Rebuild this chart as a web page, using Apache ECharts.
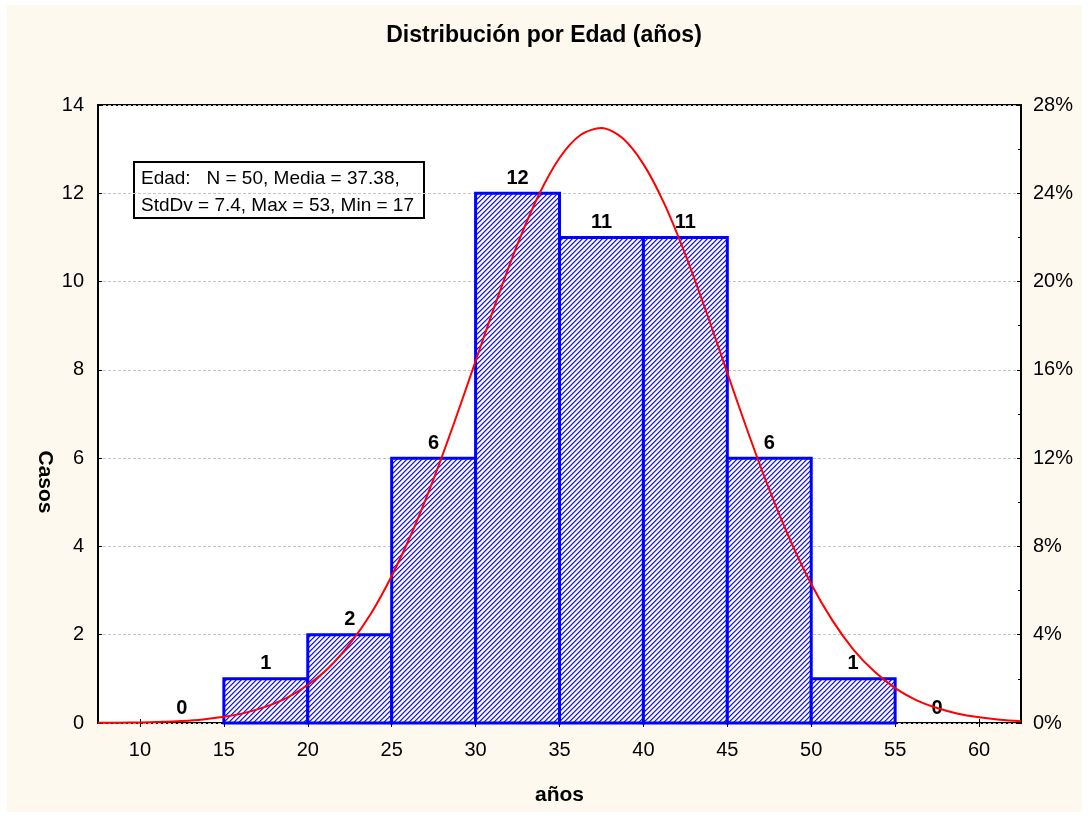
<!DOCTYPE html>
<html>
<head>
    <meta charset="utf-8">
    <script src="https://cdn.jsdelivr.net/npm/echarts@6/dist/echarts.min.js"></script>
    <style>
        html, body { margin: 0; padding: 0; background: #fff; }
    </style>
</head>
<body>
    <div id="main" style="width: 1088px;height:816px"></div>

    <script type="text/javascript">
        // histograma: limites de clase y casos
        var binStart = [10, 15, 20, 25, 30, 35, 40, 45, 50, 55];
        var binEnd   = [15, 20, 25, 30, 35, 40, 45, 50, 55, 60];
        var casos    = [0, 1, 2, 6, 12, 11, 11, 6, 1, 0];

        // curva normal esperada
        var curveX = [7.5, 8.75, 10, 11.25, 12.5, 13.75, 15, 16.25, 17.5, 18.75, 20, 21.25, 22.5, 23.75,
                      25, 26.25, 27.5, 28.75, 30, 31.25, 32.5, 33.75, 35, 36.25, 37.5,
                      38.75, 40, 41.25, 42.5, 43.75, 45, 46.25, 47.5, 48.75, 50, 51.25, 52.5, 53.75,
                      55, 56.25, 57.5, 58.75, 60, 61.25, 62.5];
        var curveY = [0.004, 0.008, 0.014, 0.026, 0.047, 0.082, 0.14, 0.23, 0.37, 0.57, 0.86, 1.25, 1.79, 2.47,
                      3.33, 4.35, 5.53, 6.83, 8.2, 9.57, 10.85, 11.95, 12.8, 13.32, 13.48,
                      13.25, 12.66, 11.76, 10.61, 9.31, 7.93, 6.57, 5.29, 4.14, 3.15, 2.33, 1.67, 1.17,
                      0.79, 0.52, 0.34, 0.21, 0.13, 0.074, 0.04];

        var xTicks = [10, 15, 20, 25, 30, 35, 40, 45, 50, 55, 60];

        var infoLines = ['Edad:   N = 50, Media = 37.38,', 'StdDv = 7.4, Max = 53, Min = 17'];

        // trama diagonal azul
        var hatch = document.createElement('canvas');
        hatch.width = 5; hatch.height = 5;
        var hctx = hatch.getContext('2d');
        var shades = ['#1414ff', '#8080ff', '#ffffff', '#ffffff', '#cfcfff'];
        for (var px = 0; px < 5; px++) {
            for (var py = 0; py < 5; py++) {
                hctx.fillStyle = shades[(px + py) % 5];
                hctx.fillRect(px, py, 1, 1);
            }
        }

        var barData = [];
        for (var i = 0; i < casos.length; i++) {
            barData.push([binStart[i], binEnd[i], casos[i]]);
        }
        var curveData = [];
        for (var j = 0; j < curveX.length; j++) {
            curveData.push([curveX[j], curveY[j]]);
        }

        var myChart = echarts.init(document.getElementById('main'));
        var font = 'Liberation Sans, Arial, sans-serif';

        var option = {
            backgroundColor: '#ffffff',
            animation: false,
            title: {
                text: 'Distribución por Edad (años)',
                left: 'center',
                top: 24,
                padding: 0,
                textStyle: { fontFamily: font, fontSize: 23, fontWeight: 'bold', color: '#000' }
            },
            graphic: [{
                type: 'rect',
                z: -10,
                silent: true,
                shape: { x: 7, y: 5, width: 1075, height: 807 },
                style: { fill: '#fef9ef' }
            }, {
                type: 'text',
                x: 45,
                y: 482,
                rotation: -Math.PI / 2,
                style: {
                    text: 'Casos',
                    font: 'bold 21px ' + font,
                    align: 'center',
                    verticalAlign: 'middle',
                    fill: '#000'
                }
            }, {
                type: 'group',
                left: 133,
                top: 161,
                z: 100,
                children: [{
                    type: 'rect',
                    shape: { x: 0, y: 0, width: 290, height: 56 },
                    style: { fill: '#fff', stroke: '#000', lineWidth: 2 }
                }, {
                    type: 'text',
                    x: 7, y: 3,
                    style: {
                        text: infoLines.join('\n'),
                        font: '19px ' + font,
                        lineHeight: 27,
                        fill: '#000'
                    }
                }]
            }],
            grid: {
                left: 98,
                right: 67,
                top: 105,
                bottom: 93,
                show: true,
                backgroundColor: '#fff',
                borderColor: '#000',
                borderWidth: 2,
                z: 0
            },
            xAxis: [{
                type: 'value',
                min: 7.5,
                max: 62.5,
                position: 'bottom',
                name: 'años',
                nameLocation: 'middle',
                nameGap: 62,
                nameTextStyle: { fontFamily: font, fontSize: 21, fontWeight: 'bold', color: '#000' },
                axisLine: { show: false },
                axisTick: { show: true, inside: true, length: 4, customValues: xTicks, lineStyle: { color: '#000' } },
                axisLabel: { customValues: xTicks, margin: 17, fontFamily: font, fontSize: 20, color: '#000' },
                splitLine: { show: false }
            }, {
                type: 'value',
                min: 7.5,
                max: 62.5,
                position: 'top',
                axisLine: { show: false },
                axisTick: { show: true, inside: true, length: 4, customValues: xTicks, lineStyle: { color: '#000' } },
                axisLabel: { show: false, customValues: xTicks },
                splitLine: { show: false }
            }],
            yAxis: [{
                type: 'value',
                min: 0,
                max: 14,
                interval: 2,
                axisLine: { show: false },
                axisTick: { show: true, inside: true, length: 4, lineStyle: { color: '#000' } },
                axisLabel: { margin: 14, fontFamily: font, fontSize: 20, color: '#000' },
                splitLine: { show: true, lineStyle: { color: '#c4c4c4', type: [3, 2], width: 1 } }
            }, {
                type: 'value',
                min: 0,
                max: 28,
                interval: 4,
                position: 'right',
                axisLine: { show: false },
                axisTick: { show: true, inside: true, length: 4, lineStyle: { color: '#000' } },
                minorTick: { show: true, splitNumber: 2, length: 3, lineStyle: { color: '#000' } },
                axisLabel: { margin: 12, fontFamily: font, fontSize: 20, color: '#000', formatter: '{value}%' },
                splitLine: { show: false }
            }],
            series: [{
                name: 'Casos',
                type: 'custom',
                xAxisIndex: 0,
                yAxisIndex: 0,
                z: 2,
                encode: { x: [0, 1], y: 2 },
                data: barData,
                renderItem: function (params, api) {
                    var x0 = api.value(0), x1 = api.value(1), n = api.value(2);
                    var p0 = api.coord([x0, n]);
                    var p1 = api.coord([x1, 0]);
                    return {
                        type: 'group',
                        children: [{
                            type: 'rect',
                            shape: { x: p0[0], y: p0[1], width: p1[0] - p0[0], height: p1[1] - p0[1] },
                            style: {
                                fill: { image: hatch, repeat: 'repeat' },
                                stroke: n > 0 ? '#0000ff' : 'none',
                                lineWidth: 3
                            }
                        }, {
                            type: 'text',
                            z2: 50,
                            x: (p0[0] + p1[0]) / 2,
                            y: p0[1] - 5,
                            style: {
                                text: String(n),
                                align: 'center',
                                verticalAlign: 'bottom',
                                font: 'bold 20px ' + font,
                                fill: '#000'
                            }
                        }]
                    };
                }
            }, {
                name: 'Normal',
                type: 'line',
                xAxisIndex: 0,
                yAxisIndex: 0,
                z: 3,
                smooth: 0.3,
                showSymbol: false,
                lineStyle: { color: '#ff0000', width: 2 },
                data: curveData
            }]
        };

        myChart.setOption(option);
    </script>
</body>
</html>
